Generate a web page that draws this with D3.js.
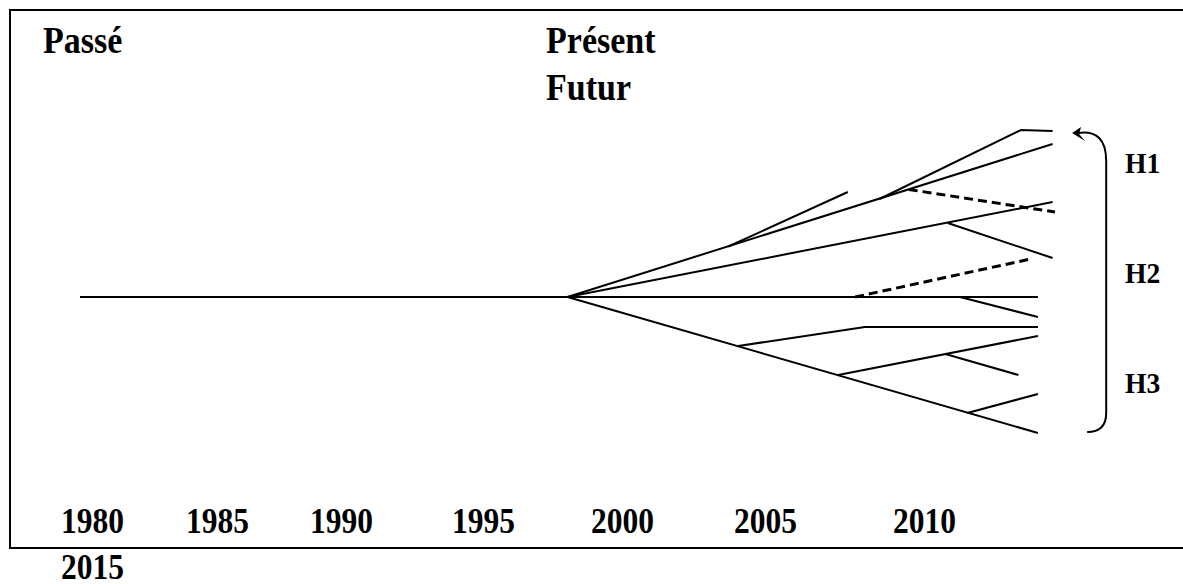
<!DOCTYPE html>
<html>
<head>
<meta charset="utf-8">
<script src="https://cdn.jsdelivr.net/npm/d3@7"></script>
<style>
  html, body { margin: 0; padding: 0; background: #fff; }
  svg { display: block; }
  text { font-family: "Liberation Serif", "Times New Roman", serif; font-weight: bold; fill: #000; }
</style>
</head>
<body>
<svg id="chart"></svg>
<script>
// timeline labels
var years = [1980, 1985, 1990, 1995, 2000, 2005, 2010];
var lastYear = 2015;
var stageLabels = ["Passé", "Présent", "Futur"];
var groupLabels = ["H1", "H2", "H3"];

// tree: [year, spread] points, spread 0 = present trend
var trunk = [[1980, 0], [2000, 0]];
var solidBranches = [
  [[2000, 0], [2019.9, 15.3]],
  [[2006.6, 5.05], [2011.5, 10.5]],
  [[2012.8, 9.8], [2018.6, 16.7], [2019.9, 16.6]],
  [[2000, 0], [2019.9, 9.5]],
  [[2015.6, 7.4], [2019.9, 3.9]],
  [[2000, 0], [2019.3, 0]],
  [[2016.1, 0], [2019.3, -2.0]],
  [[2000, 0], [2019.3, -13.6]],
  [[2007.0, -4.9], [2012.2, -3.0], [2019.3, -3.0]],
  [[2011.1, -7.8], [2019.3, -3.9]],
  [[2015.5, -5.7], [2018.5, -7.8]],
  [[2016.4, -11.6], [2019.3, -9.7]]
];
var dashedBranches = [
  [[2014, 10.75], [2020, 8.5]],
  [[2011.8, 0], [2019, 3.8]]
];

var w = 1183, h = 584;
var svg = d3.select("#chart").attr("width", w).attr("height", h);

var x = d3.scaleLinear().domain([1980, 2020]).range([80, 1055]);
var y = d3.scaleLinear().domain([-15, 15]).range([447, 147]);
// year labels sit on uneven tab stops
var labelX = d3.scaleLinear().domain(years).range([61, 186, 310, 452, 591, 734, 893]);

var line = d3.line()
  .x(function(d) { return x(d[0]); })
  .y(function(d) { return y(d[1]); });

// frame (open on the right)
svg.append("path")
  .attr("d", "M" + w + ",10H10V548H" + w)
  .attr("fill", "none")
  .attr("stroke", "#000")
  .attr("stroke-width", 2);

svg.append("path")
  .datum(trunk)
  .attr("d", line)
  .attr("fill", "none")
  .attr("stroke", "#000")
  .attr("stroke-width", 2);

svg.selectAll("path.branch")
  .data(solidBranches)
  .enter()
  .append("path")
  .attr("class", "branch")
  .attr("d", line)
  .attr("fill", "none")
  .attr("stroke", "#000")
  .attr("stroke-width", 2);

svg.selectAll("path.dashed")
  .data(dashedBranches)
  .enter()
  .append("path")
  .attr("class", "dashed")
  .attr("d", line)
  .attr("fill", "none")
  .attr("stroke", "#000")
  .attr("stroke-width", 3)
  .attr("stroke-dasharray", "9,5");

// bracket with arrow back to the top branch
var bx = x(2022.1), bTop = y(16.4), bBot = y(-13.6);
svg.append("path")
  .attr("d", "M" + (x(2020.7) + 6) + "," + bTop +
             "Q" + bx + "," + (bTop - 4) + " " + bx + "," + (bTop + 28) +
             "V" + (bBot - 20) +
             "Q" + bx + "," + (bBot - 1) + " " + (bx - 19) + "," + (bBot - 1))
  .attr("fill", "none")
  .attr("stroke", "#000")
  .attr("stroke-width", 2);
var ax = x(2020.7), ay = bTop;
svg.append("path")
  .attr("d", "M" + ax + "," + ay + "L" + (ax + 9) + "," + (ay - 6) + "L" + (ax + 7) + "," + (ay + 1) + "L" + (ax + 13) + "," + (ay + 8) + "Z")
  .attr("fill", "#000");

function label(txt, tx, ty, size, sx) {
  svg.append("text")
    .attr("transform", "translate(" + tx + "," + ty + ") scale(" + sx + ",1)")
    .style("font-size", size + "px")
    .text(txt);
}

groupLabels.forEach(function(d, i) {
  label(d, 1125, 173 + i * 110, 30, 0.92);
});

label(stageLabels[0], 43, 53, 37, 0.92);
label(stageLabels[1], 546, 53, 37, 0.92);
label(stageLabels[2], 546, 100, 37, 0.92);

years.forEach(function(d) {
  label(d, labelX(d), 533, 35, 0.9);
});
label(lastYear, labelX(years[0]), 579, 35, 0.9);
</script>
</body>
</html>
